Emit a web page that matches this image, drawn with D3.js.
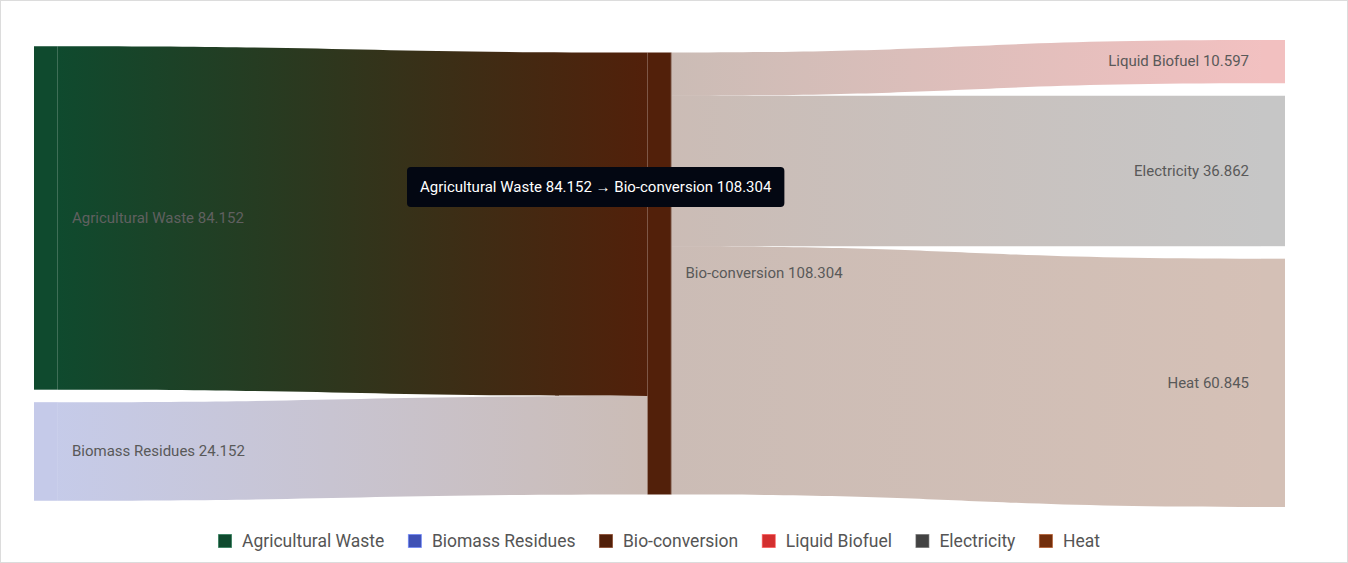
<html>
<script src='https://d3js.org/d3.v7.min.js'></script>
<style>
  body {margin: 0; background: #fff;}
  text {font-family: Roboto, 'Noto Sans', sans-serif;}
</style>
<body onload='init()'>
<svg width=1348 height=563></svg>
<script>
// nodes
const nodeNames = ['Agricultural Waste', 'Biomass Residues', 'Bio-conversion', 'Liquid Biofuel', 'Electricity', 'Heat']
const nodeColors = ['#0f4a2e', '#3f51b5', '#52200a', '#d32f2f', '#424242', '#722e0c']
const nodeColumns = [0, 0, 1, 2, 2, 2]
// links
const linkSources = [0, 1, 2, 2, 2]
const linkTargets = [2, 2, 3, 4, 5]
const linkValues = [84.152, 24.152, 10.597, 36.862, 60.845]
// hovered link
const activeLink = 0

function init() {
  width = 1348
  height = 563
  nodeWidth = 24
  nodePad = 12.5
  top_ = 40
  bottom = 507
  const svg = d3.select('svg')

  svg.append('rect').attr('x', 0.5).attr('y', 0.5).attr('width', width - 1).attr('height', height - 1)
    .attr('fill', 'none').attr('stroke', '#dcdcdc')

  // node values
  const nodes = nodeNames.map((n, i) => ({name: n, color: nodeColors[i], col: nodeColumns[i], i: i}))
  const links = linkValues.map((v, i) => ({source: nodes[linkSources[i]], target: nodes[linkTargets[i]], value: v, i: i}))
  nodes.forEach(n => {
    const ins = d3.sum(links.filter(l => l.target === n), l => l.value)
    const outs = d3.sum(links.filter(l => l.source === n), l => l.value)
    n.value = Math.max(ins, outs)
  })

  const cols = d3.groups(nodes, d => d.col).map(d => d[1])
  const maxN = d3.max(cols, c => c.length)
  const colTot = d3.max(cols, c => d3.sum(c, n => n.value))
  const ky = d3.scaleLinear().domain([0, colTot]).range([0, (bottom - top_) - (maxN - 1) * nodePad])
  const x = d3.scaleLinear().domain([0, 2]).range([34, 1261])

  cols.forEach(c => {
    const total = d3.sum(c, n => ky(n.value)) + (c.length - 1) * nodePad
    let y = top_ + ((bottom - top_) - total) / 2
    c.forEach(n => {
      n.x0 = x(n.col); n.x1 = n.x0 + nodeWidth
      n.y0 = y; n.y1 = y + ky(n.value)
      y = n.y1 + nodePad
    })
  })
  nodes.forEach(n => {
    let sy = n.y0, ty = n.y0
    links.filter(l => l.source === n).forEach(l => { l.sy0 = sy; sy += ky(l.value); l.sy1 = sy })
    links.filter(l => l.target === n).forEach(l => { l.ty0 = ty; ty += ky(l.value); l.ty1 = ty })
  })

  const active = links[activeLink]
  const isActiveNode = n => n === active.source || n === active.target

  const defs = svg.append('defs')
  links.forEach(l => {
    const g = defs.append('linearGradient').attr('id', 'lg' + l.i)
      .attr('gradientUnits', 'userSpaceOnUse')
      .attr('x1', l.source.x1).attr('x2', l.target.x0)
    g.append('stop').attr('offset', '0%').attr('stop-color', l.source.color)
    g.append('stop').attr('offset', '100%').attr('stop-color', l.target.color)
  })

  function linkPath(l) {
    const sx = l.source.x1, tx = l.target.x0, mx = (sx + tx) / 2
    const p = d3.path()
    p.moveTo(sx, l.sy0)
    p.bezierCurveTo(mx, l.sy0, mx, l.ty0, tx, l.ty0)
    p.lineTo(tx, l.ty1)
    p.bezierCurveTo(mx, l.ty1, mx, l.sy1, sx, l.sy1)
    p.closePath()
    return p.toString()
  }

  svg.append('g').selectAll('path').data(links).enter().append('path')
    .attr('d', linkPath)
    .attr('fill', l => 'url(#lg' + l.i + ')')
    .attr('opacity', l => l === active ? 1 : 0.3)

  svg.append('g').selectAll('rect').data(nodes).enter().append('rect')
    .attr('x', n => n.x0).attr('y', n => n.y0)
    .attr('width', n => n.x1 - n.x0).attr('height', n => n.y1 - n.y0)
    .attr('fill', n => n.color)
    .attr('opacity', n => isActiveNode(n) ? 1 : 0.3)

  svg.append('g').selectAll('line').data(nodes.filter(n => n.col < 2)).enter().append('line')
    .attr('x1', n => n.x1 - 0.5).attr('x2', n => n.x1 - 0.5)
    .attr('y1', n => n.y0).attr('y2', n => n.y1)
    .attr('stroke', '#fff').attr('stroke-opacity', n => isActiveNode(n) ? 0.2 : 0.1)

  svg.append('g').selectAll('text').data(nodes).enter().append('text')
    .attr('x', n => n.col === 2 ? n.x0 - 12 : n.x1 + 14)
    .attr('y', n => (n.y0 + n.y1) / 2 - 0.5)
    .attr('dy', '0.35em')
    .attr('text-anchor', n => n.col === 2 ? 'end' : 'start')
    .attr('font-size', 15)
    .attr('fill', n => isActiveNode(n) && n.col === 0 ? '#606060' : '#595959')
    .text(n => n.name + ' ' + n.value.toFixed(3))

  // tooltip
  const tipText = active.source.name + ' ' + active.source.value.toFixed(3) + ' \u2192 ' +
    active.target.name + ' ' + active.target.value.toFixed(3)
  const tip = svg.append('g').attr('transform', 'translate(407,167)')
  const tipRect = tip.append('rect').attr('rx', 4).attr('fill', '#030712').attr('height', 40)
  const tt = tip.append('text').attr('x', 13).attr('y', 20).attr('dy', '0.35em')
    .attr('font-size', 15).attr('fill', '#fff').text(tipText)
  tipRect.attr('width', tt.node().getComputedTextLength() + 26)

  // legend
  const legend = svg.append('g').attr('transform', 'translate(218,541)')
  let lx = 0
  nodes.forEach(n => {
    const it = legend.append('g').attr('transform', 'translate(' + lx + ',0)')
    it.append('rect').attr('x', 0.5).attr('y', -6.5).attr('width', 13).attr('height', 13)
      .attr('fill', n.color).attr('stroke', d3.color(n.color).brighter(1.2)).attr('stroke-opacity', 0.6)
    const t = it.append('text').attr('x', 24).attr('dy', '0.35em')
      .attr('font-size', 17.5).attr('fill', '#555').text(n.name)
    lx += 24 + t.node().getComputedTextLength() + 23.5
  })
}
</script>
</body>
</html>
